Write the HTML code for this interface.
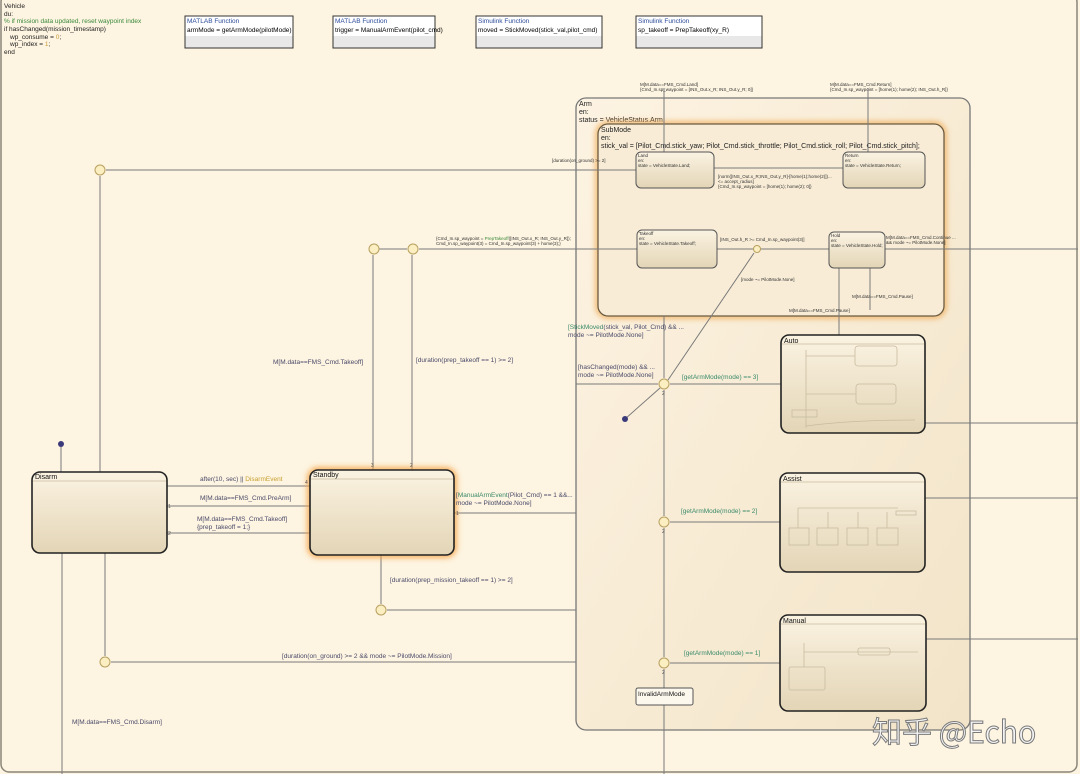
<!DOCTYPE html>
<html><head><meta charset="utf-8"><style>
html,body{margin:0;padding:0;background:#fdf4e1;}
svg{display:block;font-family:"Liberation Sans","Noto Sans CJK SC",sans-serif;}
</style></head><body>
<svg width="1080" height="774" viewBox="0 0 1080 774" xmlns="http://www.w3.org/2000/svg">
<defs>
<linearGradient id="st" x1="0" y1="0" x2="0" y2="1"><stop offset="0" stop-color="#fbf3e2"/><stop offset="1" stop-color="#e3d5b6"/></linearGradient>
<linearGradient id="arm" x1="0" y1="0" x2="1" y2="1"><stop offset="0" stop-color="#fdf3e2"/><stop offset="1" stop-color="#f2e4c8"/></linearGradient>
<filter id="glow" x="-10%" y="-10%" width="120%" height="120%"><feGaussianBlur stdDeviation="3"/></filter>
</defs>
<rect x="0" y="0" width="1080" height="774" fill="#fdf4e1"/>
<rect x="1" y="-6" width="1076" height="778" rx="8" fill="none" stroke="#8a8578" stroke-width="1.5"/>
<g font-size="6.5" fill="#222">
<text x="4" y="8">Vehicle</text><text x="4" y="16">du:</text>
<text x="4" y="23" fill="#3a8a3a">% if mission data updated, reset waypoint index</text>
<text x="4" y="31">if hasChanged(mission_timestamp)</text>
<text x="10" y="39">wp_consume = <tspan fill="#c89a3a">0</tspan>;</text>
<text x="10" y="46">wp_index = <tspan fill="#c89a3a">1</tspan>;</text>
<text x="4" y="54">end</text>
</g>
<g font-size="6.5">
<g><rect x="185" y="16" width="108" height="32" fill="#e8e8e8"/><rect x="185" y="16" width="108" height="20" fill="#fff"/><rect x="185" y="16" width="108" height="32" fill="none" stroke="#333"/><text x="187" y="23" fill="#2a4a9a">MATLAB Function</text><text x="187" y="32">armMode = getArmMode(pilotMode)</text></g>
<g><rect x="333" y="16" width="102" height="32" fill="#e8e8e8"/><rect x="333" y="16" width="102" height="20" fill="#fff"/><rect x="333" y="16" width="102" height="32" fill="none" stroke="#333"/><text x="335" y="23" fill="#2a4a9a">MATLAB Function</text><text x="335" y="32">trigger = ManualArmEvent(pilot_cmd)</text></g>
<g><rect x="476" y="16" width="126" height="32" fill="#e8e8e8"/><rect x="476" y="16" width="126" height="20" fill="#fff"/><rect x="476" y="16" width="126" height="32" fill="none" stroke="#333"/><text x="478" y="23" fill="#2a4a9a">Simulink Function</text><text x="478" y="32">moved = StickMoved(stick_val,pilot_cmd)</text></g>
<g><rect x="636" y="16" width="126" height="32" fill="#e8e8e8"/><rect x="636" y="16" width="126" height="20" fill="#fff"/><rect x="636" y="16" width="126" height="32" fill="none" stroke="#333"/><text x="638" y="23" fill="#2a4a9a">Simulink Function</text><text x="638" y="32">sp_takeoff = PrepTakeoff(xy_R)</text></g>
</g>
<rect x="576" y="98" width="394" height="632" rx="10" fill="url(#arm)" stroke="#777" stroke-width="1.3"/>
<g font-size="7" fill="#222"><text x="579" y="106">Arm</text><text x="579" y="114">en:</text><text x="579" y="122">status = VehicleStatus.Arm;</text></g>
<rect x="598" y="124" width="346" height="192" rx="10" fill="none" stroke="#f0b060" stroke-width="5" filter="url(#glow)"/>
<rect x="598" y="124" width="346" height="192" rx="10" fill="#f8ecd6" stroke="#6a5a40" stroke-width="1.3"/>
<g font-size="7" fill="#222"><text x="601" y="132">SubMode</text><text x="601" y="140">en:</text><text x="601" y="148">stick_val = [Pilot_Cmd.stick_yaw; Pilot_Cmd.stick_throttle; Pilot_Cmd.stick_roll; Pilot_Cmd.stick_pitch];</text></g>
<g stroke="#7a7a7a" stroke-width="1" fill="none">
<line x1="664" y1="88" x2="664" y2="152"/><line x1="868" y1="88" x2="868" y2="152"/>
<line x1="843" y1="168" x2="714" y2="168"/>
<line x1="717" y1="249" x2="829" y2="249"/>
<line x1="885" y1="249" x2="1078" y2="249"/>
<line x1="839" y1="268" x2="839" y2="335"/><line x1="870" y1="268" x2="870" y2="310"/>
<line x1="106" y1="170" x2="636" y2="170"/>
<line x1="100" y1="176" x2="100" y2="472"/>
<line x1="379" y1="249" x2="407" y2="249"/>
<line x1="419" y1="249" x2="637" y2="249"/>
<line x1="373" y1="255" x2="373" y2="470"/><line x1="412" y1="255" x2="412" y2="470"/>
<line x1="61" y1="444" x2="61" y2="472"/>
<line x1="167" y1="486" x2="310" y2="486"/><line x1="167" y1="506" x2="310" y2="506"/><line x1="167" y1="533" x2="310" y2="533"/>
<line x1="454" y1="513" x2="576" y2="513"/>
<line x1="62" y1="553" x2="62" y2="774"/><line x1="105" y1="553" x2="105" y2="656"/>
<line x1="381" y1="555" x2="381" y2="604"/><line x1="387" y1="610" x2="576" y2="610"/>
<line x1="111" y1="662" x2="576" y2="662"/>
<line x1="664" y1="316" x2="664" y2="378"/><line x1="664" y1="390" x2="664" y2="516"/><line x1="664" y1="528" x2="664" y2="657"/><line x1="664" y1="669" x2="664" y2="688"/><line x1="664" y1="705" x2="664" y2="774"/>
<line x1="576" y1="384" x2="658" y2="384"/><line x1="670" y1="384" x2="781" y2="384"/>
<line x1="670" y1="522" x2="780" y2="522"/><line x1="670" y1="663" x2="780" y2="663"/>
<line x1="625" y1="419" x2="660" y2="388"/><line x1="668" y1="380" x2="754" y2="253"/>
<line x1="925" y1="423" x2="1078" y2="423"/><line x1="925" y1="498" x2="1078" y2="498"/><line x1="926" y1="639" x2="1078" y2="639"/>
</g>
<g fill="#fbeec0" stroke="#b8a060" stroke-width="1">
<circle cx="100" cy="170" r="5"/><circle cx="374" cy="249" r="5"/><circle cx="413" cy="249" r="5"/><circle cx="757" cy="249" r="3.5"/>
<circle cx="381" cy="610" r="5"/><circle cx="105" cy="662" r="5"/>
<circle cx="664" cy="384" r="5"/><circle cx="664" cy="522" r="5"/><circle cx="664" cy="663" r="5"/>
</g>
<circle cx="61" cy="444" r="3" fill="#3a3a7a"/><circle cx="625" cy="419" r="3" fill="#3a3a7a"/>
<g stroke="#555" stroke-width="1" fill="url(#st)">
<rect x="636" y="152" width="78" height="36" rx="5"/><rect x="843" y="152" width="82" height="36" rx="5"/>
<rect x="637" y="230" width="80" height="38" rx="5"/><rect x="829" y="232" width="56" height="36" rx="5"/>
</g>
<g font-size="4.5" fill="#333">
<text x="638" y="157">Land</text><text x="638" y="162">en:</text><text x="638" y="167">state = VehicleState.Land;</text>
<text x="845" y="157">Return</text><text x="845" y="162">en:</text><text x="845" y="167">state = VehicleState.Return;</text>
<text x="639" y="235">Takeoff</text><text x="639" y="240">en:</text><text x="639" y="245">state = VehicleState.Takeoff;</text>
<text x="831" y="237">Hold</text><text x="831" y="242">en:</text><text x="831" y="247">state = VehicleState.Hold;</text>
<text x="640" y="86">M[M.data==FMS_Cmd.Land]</text><text x="640" y="91">{Cmd_In.sp_waypoint = [INS_Out.x_R; INS_Out.y_R; 0]}</text>
<text x="830" y="86">M[M.data==FMS_Cmd.Return]</text><text x="830" y="91">{Cmd_In.sp_waypoint = [home(1); home(2); INS_Out.h_R]}</text>
<text x="718" y="178">[norm([INS_Out.x_R;INS_Out.y_R]-[home(1);home(2)])...</text><text x="718" y="183">&lt;= accept_radius]</text><text x="718" y="188">{Cmd_In.sp_waypoint = [home(1); home(2); 0]}</text>
<text x="720" y="241">[INS_Out.h_R &gt;= Cmd_In.sp_waypoint(3)]</text>
<text x="741" y="281">[mode ~= PilotMode.None]</text>
<text x="886" y="239">M[M.data==FMS_Cmd.Continue ...</text><text x="886" y="244">&amp;&amp; mode ~= PilotMode.None]</text>
<text x="852" y="298">M[M.data==FMS_Cmd.Pause]</text><text x="789" y="312">M[M.data==FMS_Cmd.Pause]</text>
<text x="436" y="240">{Cmd_In.sp_waypoint = <tspan fill="#3a8a3a">PrepTakeoff</tspan>([INS_Out.x_R; INS_Out.y_R]);</text><text x="436" y="245">Cmd_In.sp_waypoint(3) = Cmd_In.sp_waypoint(3) + home(3);}</text>
<text x="552" y="162">[duration(on_ground) &gt;= 2]</text>
</g>
<g stroke="#222" stroke-width="1.6" fill="url(#st)">
<rect x="781" y="335" width="144" height="98" rx="8"/><rect x="780" y="473" width="145" height="99" rx="8"/><rect x="780" y="615" width="146" height="96" rx="8"/>
</g>
<g stroke="#c8bca0" stroke-width="0.8" fill="none">
<line x1="782" y1="344" x2="924" y2="344"/><line x1="781" y1="482" x2="924" y2="482"/><line x1="781" y1="624" x2="925" y2="624"/>
<rect x="855" y="346" width="42" height="20" rx="3"/><rect x="856" y="384" width="40" height="20" rx="3"/><rect x="792" y="410" width="25" height="7" />
<line x1="806" y1="350" x2="806" y2="428"/><line x1="806" y1="356" x2="855" y2="356"/><line x1="806" y1="394" x2="856" y2="394"/><path d="M806 426 Q850 420 915 420"/>
<rect x="789" y="528" width="20" height="17"/><rect x="817" y="528" width="21" height="17"/><rect x="847" y="528" width="21" height="17"/><rect x="877" y="528" width="21" height="17"/>
<line x1="798" y1="508" x2="898" y2="508"/><line x1="798" y1="508" x2="798" y2="528"/><line x1="828" y1="512" x2="828" y2="528"/><line x1="858" y1="512" x2="858" y2="528"/><line x1="887" y1="512" x2="887" y2="528"/><rect x="896" y="511" width="20" height="4"/>
<rect x="789" y="667" width="36" height="23" rx="2"/><line x1="804" y1="643" x2="804" y2="667"/><line x1="804" y1="652" x2="918" y2="652"/><rect x="858" y="648" width="32" height="7" rx="2"/>
</g>
<g font-size="7" fill="#111"><text x="784" y="343">Auto</text><text x="783" y="481">Assist</text><text x="783" y="623">Manual</text></g>
<rect x="636" y="688" width="57" height="17" rx="2" fill="#fdf8ee" stroke="#555"/>
<text x="638" y="696" font-size="6.5" fill="#111">InvalidArmMode</text>
<rect x="310" y="470" width="144" height="85" rx="8" fill="none" stroke="#f5a040" stroke-width="5" filter="url(#glow)"/>
<rect x="32" y="472" width="135" height="81" rx="8" fill="url(#st)" stroke="#222" stroke-width="1.6"/>
<rect x="310" y="470" width="144" height="85" rx="8" fill="url(#st)" stroke="#222" stroke-width="1.6"/>
<line x1="33" y1="481" x2="166" y2="481" stroke="#c8bca0" stroke-width="0.8"/><line x1="311" y1="479" x2="453" y2="479" stroke="#c8bca0" stroke-width="0.8"/>
<g font-size="7" fill="#111"><text x="35" y="479">Disarm</text><text x="313" y="477">Standby</text></g>
<g font-size="6.5" fill="#4a4a6a">
<text x="200" y="481">after(10, sec) || <tspan fill="#c8a030">DisarmEvent</tspan></text>
<text x="200" y="500">M[M.data==FMS_Cmd.PreArm]</text>
<text x="197" y="521">M[M.data==FMS_Cmd.Takeoff]</text><text x="197" y="529">{prep_takeoff = 1;}</text>
<text x="456" y="497">[<tspan fill="#3a8a6a">ManualArmEvent</tspan>(Pilot_Cmd) == 1 &amp;&amp;...</text><text x="456" y="505">mode ~= PilotMode.None]</text>
<text x="273" y="364">M[M.data==FMS_Cmd.Takeoff]</text>
<text x="416" y="362">[duration(prep_takeoff == 1) &gt;= 2]</text>
<text x="390" y="582">[duration(prep_mission_takeoff == 1) &gt;= 2]</text>
<text x="282" y="658">[duration(on_ground) &gt;= 2 &amp;&amp; mode ~= PilotMode.Mission]</text>
<text x="72" y="724">M[M.data==FMS_Cmd.Disarm]</text>
<text x="568" y="329"><tspan fill="#3a8a6a">[StickMoved</tspan>(stick_val, Pilot_Cmd) &amp;&amp; ...</text><text x="568" y="337">mode ~= PilotMode.None]</text>
<text x="578" y="369">[hasChanged(mode) &amp;&amp; ...</text><text x="578" y="377">mode ~= PilotMode.None]</text>
<text x="682" y="379" fill="#3a8a6a">[getArmMode(mode) == 3]</text>
<text x="681" y="513" fill="#3a8a6a">[getArmMode(mode)  == 2]</text>
<text x="684" y="655" fill="#3a8a6a">[getArmMode(mode)  == 1]</text>
</g>
<g font-size="5" fill="#555">
<text x="305" y="484">4</text><text x="168" y="508">1</text><text x="168" y="535">2</text><text x="371" y="467">3</text><text x="410" y="467">2</text><text x="456" y="515">1</text><text x="662" y="395">2</text><text x="662" y="533">2</text><text x="662" y="674">2</text>
</g>
<text x="872" y="743" font-size="30" fill="#f4f4f4" stroke="#7a7a7a" stroke-width="1" font-family="'Noto Sans CJK SC','Liberation Sans',sans-serif">知乎 @Echo</text>
</svg>
</body></html>
